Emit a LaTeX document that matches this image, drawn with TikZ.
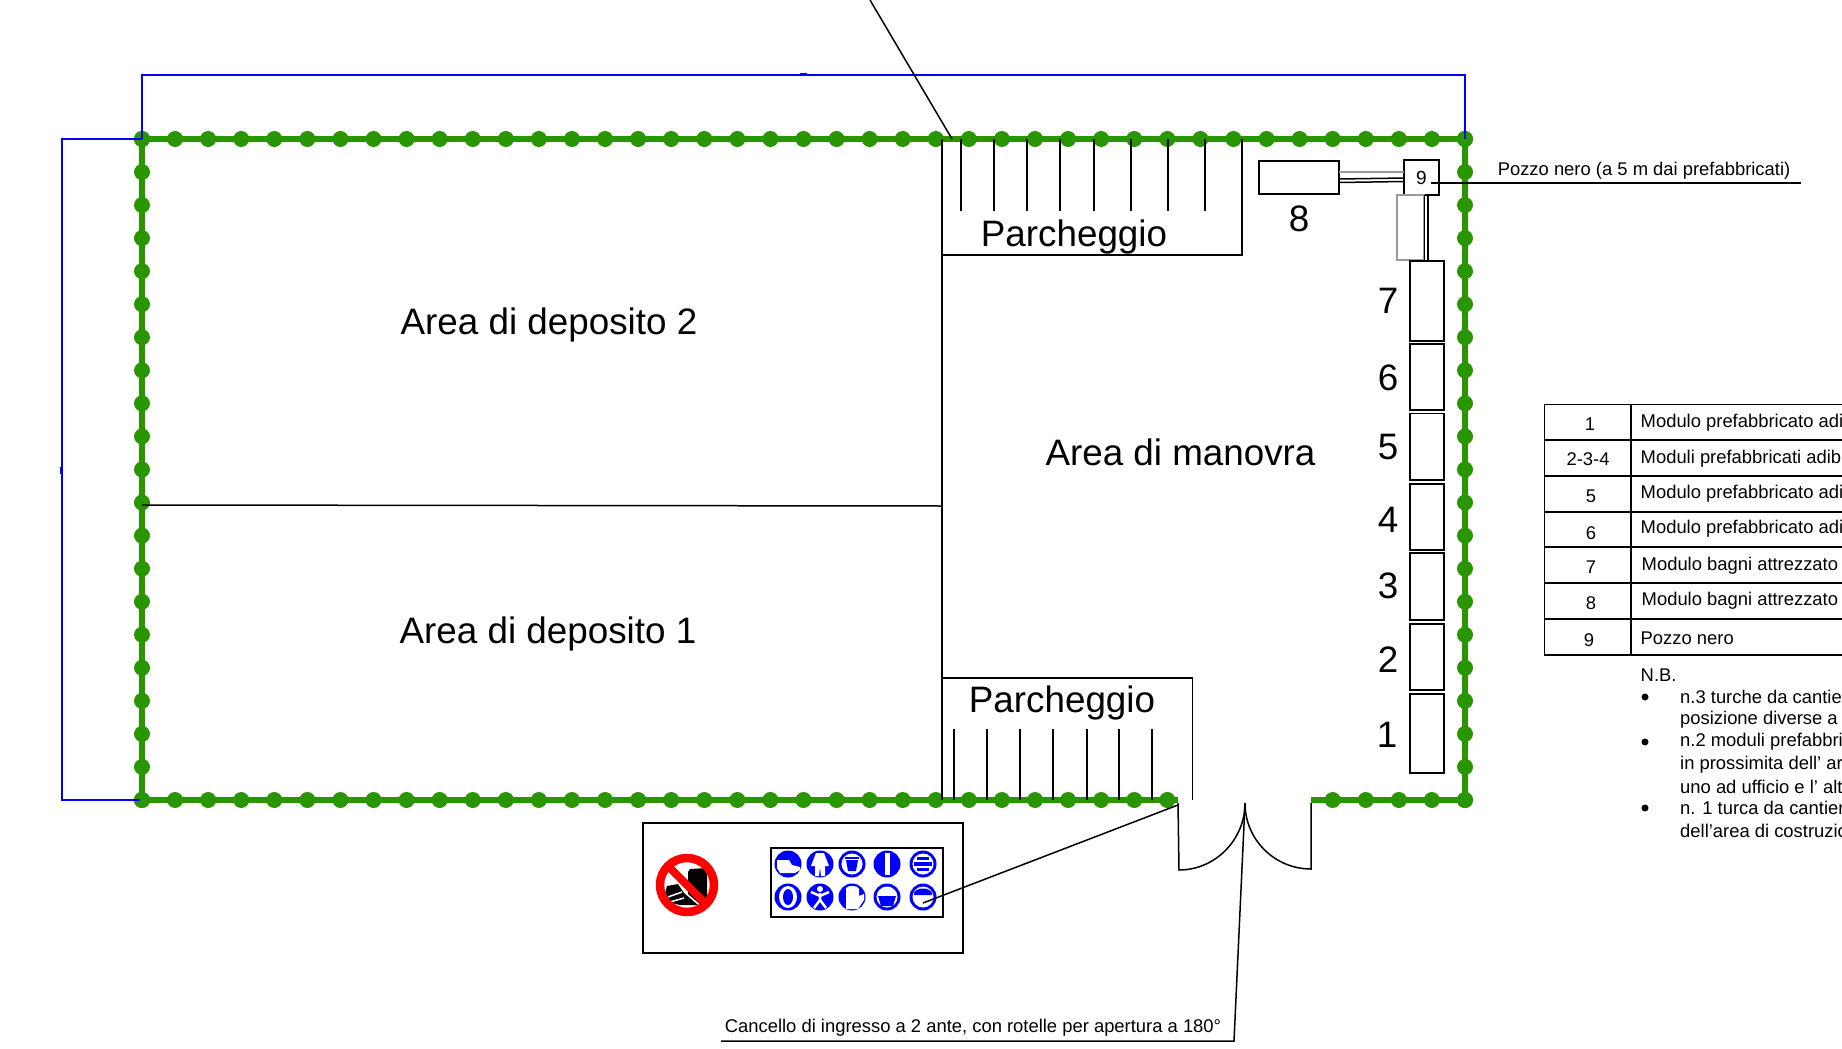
\documentclass[tikz,border=0pt]{standalone}
\usepackage{fontspec}
\setmainfont{Liberation Sans}
\definecolor{fence}{RGB}{41,150,0}
\definecolor{signblue}{RGB}{0,0,255}
\definecolor{signred}{RGB}{255,0,0}
\newcommand{\bigtxt}{\fontsize{36.8}{38}\selectfont}
\newcommand{\smalltxt}{\fontsize{18.4}{20}\selectfont}
\tikzset{
  ln/.style={draw=black,line width=1.5pt},
  glin/.style={draw=gray!80,line width=1.5pt},
  bl/.style={draw=signblue,line width=1.6pt},
  fenceln/.style={draw=fence,line width=6.5pt},
  fencedot/.style={fill=fence},
  bigl/.style={inner sep=0pt,font=\bigtxt,anchor=center},
  smallc/.style={inner sep=0pt,font=\smalltxt,anchor=center},
  smalll/.style={inner sep=0pt,font=\smalltxt,anchor=west},
  bul/.style={fill=black},
  disc/.style={fill=signblue},
  wht/.style={fill=white},
}
\newcommand{\signdisc}[2]{\fill[disc] (#1,#2) circle (13.5pt);}
\begin{document}
\begin{tikzpicture}[x=1pt,y=-1pt]
\useasboundingbox (0,0) rectangle (1842,1049);
\fill[white] (0,0) rectangle (1842,1049);
% fence
\draw[fenceln,line join=miter] (1178,800) -- (142,800) -- (142,139) -- (1465,139) -- (1465,800) -- (1311,800);
\foreach \i in {0,...,40} {\fill[fencedot] (142+33.075*\i,139) circle (8pt);}
\foreach \i in {0,...,20} {\fill[fencedot] (142,139+33.05*\i) circle (8pt);
  \fill[fencedot] (1465,139+33.05*\i) circle (8pt);}
\foreach \i in {0,...,31} {\fill[fencedot] (142+33.075*\i,800) circle (8pt);}
\foreach \i in {36,...,40} {\fill[fencedot] (142+33.075*\i,800) circle (8pt);}
% blue boundary
\draw[bl] (142,139) -- (142,75) -- (1465,75) -- (1465,139);
\draw[bl] (142,139) -- (62,139) -- (62,800) -- (140,800);
\draw[bl] (800,73.5) -- (807,73.5);
\draw[bl] (60.5,467) -- (60.5,474);
% partition lines
\draw[ln] (942,139) -- (942,800);
\draw[ln] (142,505) -- (942,506);
% top parking
\draw[ln] (942,255) -- (1242,255) -- (1242,139);
\foreach \x in {961,994,1027,1060,1094,1131,1168,1205} {\draw[ln] (\x,139) -- (\x,211);}
\draw[ln] (870,0) -- (952,139);
% bottom parking
\draw[ln] (942,678) -- (1192.5,678) -- (1192.5,800);
\foreach \x in {954,987,1020,1053,1087,1119,1152} {\draw[ln] (\x,729) -- (\x,800);}
% gate
\coordinate (gL) at (1178,803);
\coordinate (gM) at (1245,803);
\coordinate (gR) at (1311,803);
\draw[ln] (gL) -- (1179,870) .. controls (1215,870) and (1245,840) .. (gM);
\draw[ln] (gR) -- (1311,869) .. controls (1275,869) and (1245,840) .. (gM);
\draw[ln] (gM) -- (1234,1041) -- (721,1041);
\node[smallc] (gatetxt) at (973,1027.5) {Cancello di ingresso a 2 ante, con rotelle per apertura a 180°};
% sign boards
\draw[ln] (643,823) rectangle (963,953);
\draw[ln] (771,848) rectangle (943,917);
% no-entry sign
\fill[black] (707,868) -- (690,869) -- (688,872) -- (688,894) -- (702,906) -- (707,896) -- cycle;
\fill[black] (667,886) -- (678,884) -- (684,893) -- (698,905) -- (680,905) -- (672,903) -- (666,904) -- (664,897) -- cycle;
\draw[white,line width=1.5pt] (668,897) -- (682,892) (670,902) -- (684,898);
\draw[signred,line width=8.5pt] (687,885) circle (27pt);
\draw[signred,line width=8pt] (668,866) -- (706,904);
% mandatory signs
\signdisc{788}{864}\signdisc{820}{864}\signdisc{852}{864}\signdisc{887}{864}\signdisc{923}{864}
\signdisc{788}{897}\signdisc{820}{897}\signdisc{852}{897}\signdisc{887}{897}\signdisc{923}{897}
% glove
\fill[wht] (777,868) -- (777,860) -- (789,860) -- (792,865) -- (800,867) -- (800,870) -- (795,873) -- (780,873) -- cycle;
% coverall
\fill[wht] (816,853) -- (824,853) -- (829,866) -- (825,866) -- (825,876) -- (821,876) -- (820,867) -- (819,876) -- (815,876) -- (815,866) -- (811,866) -- cycle;
% helmet-ring 1
\fill[wht] (852,864) circle (10.5pt);
\fill[disc] (846,860) -- (858,860) -- (856,871) -- (848,871) -- cycle;
\fill[disc] (845,857) rectangle (859,858.5);
% boot bar
\fill[wht] (884.5,853) rectangle (889.5,875);
% face 1
\fill[wht] (923,864) circle (10.5pt);
\fill[disc] (914,862) rectangle (932,866);
\fill[disc] (917,857) rectangle (929,860);
\fill[disc] (917,868) rectangle (929,871);
% ear ring
\fill[wht] (788,897) ellipse (9pt and 11pt);
\fill[disc] (788,897) ellipse (5pt and 8pt);
% figure
\fill[wht] (820,889) circle (3pt);
\draw[white,line width=2.5pt] (811,892) -- (820,896) -- (829,892) (820,893) -- (820,900) -- (814,908) (820,900) -- (826,908);
% mitten
\fill[wht] (846,909) -- (846,888) .. controls (848,885) and (858,885) .. (859,889) -- (859,896) -- (864,894) -- (864,900) -- (858,909) -- cycle;
% helmet ring 2
\fill[wht] (887,897) circle (10.5pt);
\fill[disc] (878,896) -- (896,896) -- (893,906) -- (881,906) -- cycle;
% face 2
\fill[wht] (923,897) circle (10.5pt);
\fill[disc] (914,895) -- (914,893) .. controls (916,887) and (930,887) .. (932,893) -- (932,895) -- cycle;
\draw[ln] (1178,805) -- (923,903);
% prefabs
\draw[ln] (1259,161) rectangle (1339,194);
\node[ln,draw,minimum width=35pt,minimum height=35pt,inner sep=0pt,font=\fontsize{19}{20}\selectfont] (nine) at (1421.5,177.5) {9};
\draw[glin] (1397,195) rectangle (1424,260);
\draw[glin] (1339,172) -- (1404,172);
\draw[ln] (1339,179) -- (1404,178);
\draw[ln] (1339,182.5) -- (1404,181.5);
\draw[ln] (1424.5,195) -- (1424.5,260);
\draw[ln] (1428,195) -- (1428,260);
\draw[ln] (1410,261) rectangle (1444,341);
\draw[ln] (1410,344) rectangle (1444,410);
\draw[ln] (1410,413.5) rectangle (1444,480);
\draw[ln] (1410,484) rectangle (1444,550);
\draw[ln] (1410,553) rectangle (1444,620);
\draw[ln] (1410,624) rectangle (1444,690);
\draw[ln] (1410,694) rectangle (1444,773);
% pozzo callout
\coordinate (pz) at (1801,183);
\draw[ln] (1431,183) -- (pz);
\node[smallc] (pztxt) at (1644,171) {Pozzo nero (a 5 m dai prefabbricati)};
% big labels
\node[bigl] (d2) at (549,325) {Area di deposito 2};
\node[bigl] (d1) at (548,634) {Area di deposito 1};
\node[bigl] (mv) at (1180.5,452.5) {Area di manovra};
\node[bigl] (p1) at (1074,237) {Parcheggio};
\node[bigl] (p2) at (1062,703) {Parcheggio};
\node[bigl] (n8) at (1299,219) {8};
\node[bigl] (n7) at (1388,301) {7};
\node[bigl] (n6) at (1388,378) {6};
\node[bigl] (n5) at (1388,447) {5};
\node[bigl] (n4) at (1388,520) {4};
\node[bigl] (n3) at (1388,586) {3};
\node[bigl] (n2) at (1388,660) {2};
\node[bigl] (n1) at (1387,735) {1};
% table
\draw[ln] (1842,404.5) -- (1544.5,404.5) -- (1544.5,655) -- (1842,655);
\draw[ln] (1631,404.5) -- (1631,655);
\foreach \y in {440,476,512,583,619} {\draw[ln] (1544.5,\y) -- (1842,\y);}
\draw[ln] (1544.5,547) -- (1597,547);
\draw[draw=black,line width=2.2pt] (1597,547) -- (1842,547);
\node[smallc] (t1) at (1590,424.5) {1};
\node[smallc] (t2) at (1588,459) {2-3-4};
\node[smallc] (t5) at (1591,496) {5};
\node[smallc] (t6) at (1591,533) {6};
\node[smallc] (t7) at (1591,567) {7};
\node[smallc] (t8) at (1591,603) {8};
\node[smallc] (t9) at (1589,640) {9};
\node[smalll] (r1) at (1640.5,423) {Modulo prefabbricato adi};
\node[smalll] (r2) at (1640.5,459) {Moduli prefabbricati adib};
\node[smalll] (r3) at (1640.5,494) {Modulo prefabbricato adi};
\node[smalll] (r4) at (1640.5,529) {Modulo prefabbricato adi};
\node[smalll] (r5) at (1641.5,566) {Modulo bagni attrezzato};
\node[smalll] (r6) at (1641.5,601) {Modulo bagni attrezzato};
\node[smalll] (r7) at (1640.5,638.5) {Pozzo nero};
% notes
\node[smalll] (nb) at (1640.5,675) {N.B.};
\fill[bul] (1645,697) circle (3.5pt);
\fill[bul] (1645,742) circle (3.5pt);
\fill[bul] (1645,808) circle (3.5pt);
\node[smalll] (l1) at (1680,697) {n.3 turche da cantie};
\node[smalll] (l2) at (1680,720) {posizione diverse a};
\node[smalll] (l3) at (1680,742) {n.2 moduli prefabbri};
\node[smalll] (l4) at (1680,765) {in prossimita dell' ar};
\node[smalll] (l5) at (1680,787) {uno ad ufficio e l' alt};
\node[smalll] (l6) at (1680,808) {n. 1 turca da cantier};
\node[smalll] (l7) at (1680,831) {dell'area di costruzio};
\end{tikzpicture}
\end{document}
